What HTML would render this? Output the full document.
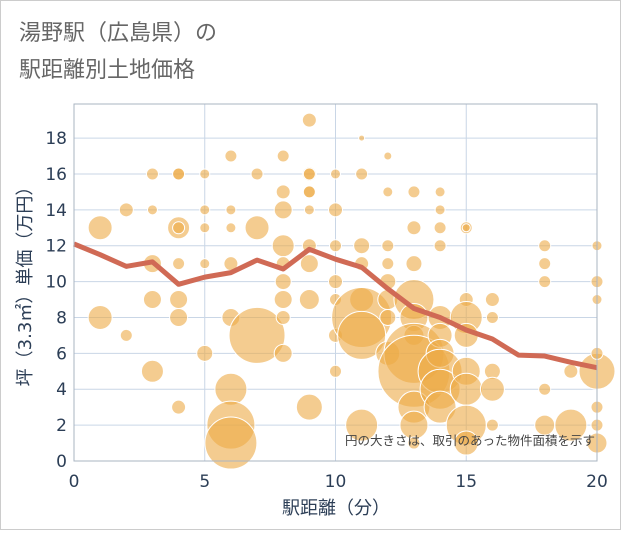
<!DOCTYPE html>
<html><head><meta charset="utf-8"><style>
body{margin:0;background:#fff;font-family:"Liberation Sans","Noto Sans CJK JP",sans-serif}
#wrap{position:relative;width:619px;height:528px;border:1px solid #ccc;background:#fff}
</style></head><body>
<div id="wrap">
<svg id="c" width="619" height="528"></svg>
</div>
<script>
const xTicks=[0,5,10,15,20];
const yTicks=[0,2,4,6,8,10,12,14,16,18];
const lineX=[0,1,2,3,4,5,6,7,8,9,10,11,12,13,14,15,16,17,18,19,20];
const lineY=[12.1,11.5,10.85,11.1,9.85,10.25,10.5,11.2,10.7,11.8,11.25,10.8,9.6,8.5,8.0,7.3,6.8,5.9,5.85,5.5,5.2];
const bubX=[1,1,2,2,3,3,3,3,3,4,4,4,4,4,4,4,4,5,5,5,5,5,6,6,6,6,6,6,6,6,7,7,7,8,8,8,8,8,8,8,8,8,9,9,9,9,9,9,9,9,9,9,10,10,10,10,10,10,10,11,11,11,11,11,11,11,11,12,12,12,12,12,12,12,12,13,13,13,13,13,13,13,13,13,13,13,14,14,14,14,14,14,14,14,14,14,15,15,15,15,15,15,15,15,15,16,16,16,16,16,18,18,18,18,18,19,19,20,20,20,20,20,20,20,20];
const bubY=[13,8,14,7,16,14,11,9,5,16,13,11,9,8,3,16,13,16,14,13,11,6,17,14,13,11,8,4,2,1,16,13,7,17,15,14,12,11,9,8,6,10,19,16,15,14,12,11,9,3,16,15,16,14,12,10,9,7,5,18,12,11,9,8,7,2,16,15,12,11,10,9,8,6,17,13,11,9,8,7,6,5,3,2,1,15,14,13,12,8,7,6,5,4,3,15,13,9,8,7,5,4,2,1,13,9,8,5,4,2,12,11,10,4,2,2,5,12,10,9,5,3,2,1,6];
const bubR=[12,12,7,6,6,5,9,9,11,6,11,6,9,9,7,6,6,5,5,5,5,8,6,5,5,7,9,16,24,26,6,12,28,6,7,9,11,7,9,7,9,8,7,7,6,5,7,9,10,13,6,6,5,7,6,7,6,7,6,3,8,7,12,30,24,16,6,5,6,6,8,10,8,12,4,7,8,20,14,10,30,36,16,14,6,6,5,6,6,12,12,14,22,20,16,5,6,7,16,12,14,16,20,12,4,7,6,8,12,6,6,6,6,6,10,16,7,5,6,5,18,6,6,10,6];
const X0=73,X1=596,Y0=460,PT=103;
const xs=v=>X0+(v/20)*(X1-X0);
const ys=v=>Y0-v*17.94;
const svg=document.getElementById('c');
const NS='http://www.w3.org/2000/svg';
const TF='"DejaVu Sans","Noto Sans CJK JP",sans-serif';
function mk(t,a,p){const e=document.createElementNS(NS,t);for(const k in a)e.setAttribute(k,a[k]);(p||svg).appendChild(e);return e;}
let t=mk('text',{x:18,y:39,'font-size':22,fill:'#666'});t.textContent='湯野駅（広島県）の';


t=mk('text',{x:18,y:76,'font-size':22,fill:'#666'});t.textContent='駅距離別土地価格';


const grid=mk('g',{});


xTicks.forEach(v=>{mk('line',{x1:xs(v),x2:xs(v),y1:PT,y2:Y0,stroke:'#c9d6e6','stroke-width':1},grid);
 const tx=mk('text',{x:xs(v),y:486,'font-size':17,fill:'#2c3e56','text-anchor':'middle','font-family':TF});tx.textContent=v;
 
 });
yTicks.forEach(v=>{mk('line',{x1:X0,x2:X1,y1:ys(v),y2:ys(v),stroke:'#c9d6e6','stroke-width':1},grid);
 const tx=mk('text',{x:66,y:ys(v)+6,'font-size':17,fill:'#2c3e56','text-anchor':'end','font-family':TF});tx.textContent=v;
 
 });
const g=mk('g',{});


bubX.forEach((x,i)=>{const c=mk('circle',{cx:xs(x),cy:ys(bubY[i]),r:bubR[i],fill:'rgba(236,170,70,0.6)',stroke:'#fff','stroke-width':1},g);
 
 });
const p=mk('polyline',{points:lineX.map((x,i)=>xs(x)+','+ys(lineY[i])).join(' '),fill:'none',stroke:'#d06a55','stroke-width':5,'stroke-linejoin':'round'});


const fr=mk('rect',{x:X0,y:PT,width:X1-X0,height:Y0-PT,fill:'none',stroke:'#aab4c2','stroke-width':1});


t=mk('text',{x:594,y:444,'font-size':12.5,fill:'#444','text-anchor':'end'});t.textContent='円の大きさは、取引のあった物件面積を示す';


t=mk('text',{x:335,y:513,'font-size':18,fill:'#2c3e56','text-anchor':'middle','font-family':TF});t.textContent='駅距離（分）';


t=mk('text',{x:0,y:0,'font-size':18,fill:'#2c3e56','text-anchor':'middle','font-family':TF,transform:'translate(30,281) rotate(-90)'});t.textContent='坪（3.3㎡）単価（万円）';


</script>
</body></html>
